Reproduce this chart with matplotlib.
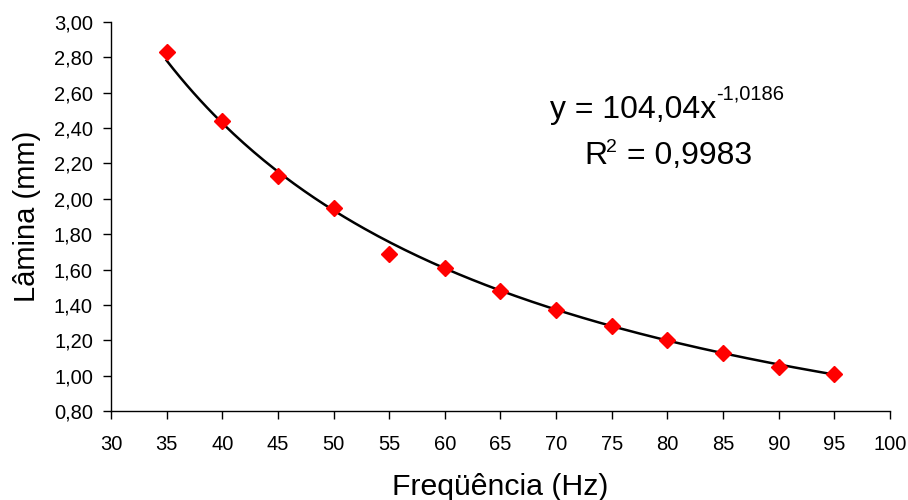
import matplotlib
matplotlib.use('Agg')
import matplotlib.pyplot as plt
import numpy as np
from matplotlib.ticker import FuncFormatter, MultipleLocator

plt.rcParams['font.family'] = ['Liberation Sans', 'DejaVu Sans']

# measured points
freq = [35, 40, 45, 50, 55, 60, 65, 70, 75, 80, 85, 90, 95]
lamina = [2.83, 2.44, 2.13, 1.95, 1.69, 1.61, 1.48, 1.37, 1.28, 1.20, 1.13, 1.05, 1.01]

# power trendline  y = a * x^b
FIT_A = 104.04
FIT_B = -1.0186
FIT_R2 = 0.9983

W, H = 908, 500
fig = plt.figure(figsize=(W / 100, H / 100), dpi=100)
ax = fig.add_axes([0.1222, 0.178, 0.858, 0.778])

xf = np.linspace(min(freq), max(freq), 200)
ax.plot(xf, FIT_A * xf ** FIT_B, color='black', lw=1.8, zorder=2)
ax.plot(freq, lamina, ls='none', marker='D', ms=8, color='#ff0000',
        markeredgecolor='#ff0000', zorder=3, clip_on=False)

ax.set_xlim(30, 100)
ax.set_ylim(0.8, 3.0)
ax.xaxis.set_major_locator(MultipleLocator(5))
ax.yaxis.set_major_locator(MultipleLocator(0.2))
ax.yaxis.set_major_formatter(FuncFormatter(lambda v, p: f'{v:.2f}'.replace('.', ',')))

for s in ('top', 'right'):
    ax.spines[s].set_visible(False)
for s in ('left', 'bottom'):
    ax.spines[s].set_linewidth(1.0)
ax.tick_params(direction='out', length=6, width=1.0, labelsize=14.5)
ax.tick_params(axis='x', pad=11)
ax.tick_params(axis='y', pad=7)

ax.set_xlabel('Freqüência (Hz)', fontsize=21.8, labelpad=14)
ax.set_ylabel('Lâmina (mm)', fontsize=21, labelpad=9)


def px(x, y):
    # pixel coords (from top-left) -> figure fraction
    return x / W, 1 - y / H


def fmt(v, nd):
    return f'{v:.{nd}f}'.replace('.', ',')


# trendline equation, Excel style
fig.text(*px(550, 118), f'y = {fmt(FIT_A, 2)}x', fontsize=23, va='baseline', ha='left')
fig.text(*px(716, 100), fmt(FIT_B, 4), fontsize=14.5, va='baseline', ha='left')
fig.text(*px(584, 164), 'R', fontsize=23, va='baseline', ha='left')
fig.text(*px(606, 152), '2', fontsize=14, va='baseline', ha='left')
fig.text(*px(752, 164), f'= {fmt(FIT_R2, 4)}', fontsize=23, va='baseline', ha='right')

fig.savefig('out.png', dpi=100)
